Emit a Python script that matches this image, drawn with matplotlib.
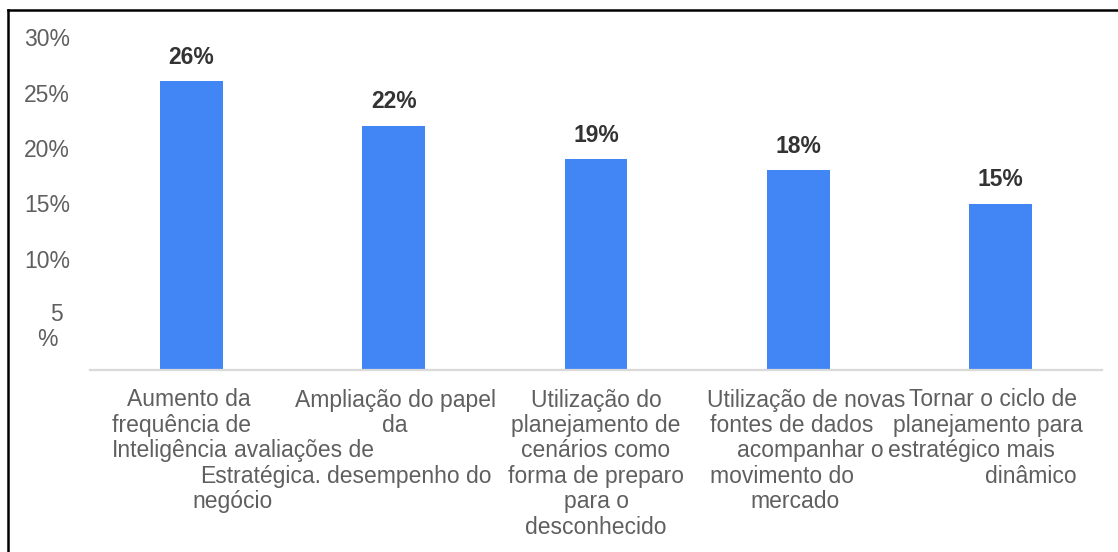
import matplotlib
matplotlib.use("Agg")
import matplotlib.pyplot as plt
from matplotlib.lines import Line2D

# --- data -------------------------------------------------------------
category_lines = [
    ["Aumento da", "frequência de", "Inteligência", "Estratégica."],
    ["Ampliação do papel", "da", "avaliações de", "desempenho do", "negócio"],
    ["Utilização do", "planejamento de", "cenários como", "forma de preparo",
     "para o", "desconhecido"],
    ["Utilização de novas", "fontes de dados", "acompanhar o", "movimento do",
     "mercado"],
    ["Tornar o ciclo de", "planejamento para", "estratégico mais", "dinâmico"],
]
values = [26, 22, 19, 18, 15]
tick_values = [0, 5, 10, 15, 20, 25, 30]
tick_labels = ["", "5\n%", "10%", "15%", "20%", "25%", "30%"]

# --- layout (pixels) --------------------------------------------------
W, H = 1118, 552
DPI = 100
PT = 72 / DPI  # pixels -> points

# left-edge offset of every label line from its category centre
line_offsets = [
    [-64, -79, -79, 9],
    [-99, -12, -160, -67, -201],
    [0, 0, 0, 0, 0, 0],
    [-91, -88, -61, -88, -48],
    [-92, -108, -113, -16],
]
line_align = ["left", "left", "center", "left", "left"]
row_first, row_step = 30, 25.4

BAR_COLOR = "#4285f4"
TEXT_GRAY = "#5f5f5f"
LABEL_DARK = "#333333"

plt.rcParams["font.family"] = ["Liberation Sans", "DejaVu Sans"]
FS = 16.5

fig = plt.figure(figsize=(W / DPI, H / DPI), dpi=DPI)
ax = fig.add_axes([90 / W, (H - 370) / H, (1102 - 90) / W, (370 - 37) / H])

x = list(range(len(values)))
ax.bar(x, values, width=0.31, color=BAR_COLOR, zorder=2)
ax.set_xlim(-0.5, len(values) - 0.5)
ax.set_ylim(0, 30)

for s in ("top", "right", "left"):
    ax.spines[s].set_visible(False)
ax.spines["bottom"].set_color("#d9d9d9")
ax.spines["bottom"].set_linewidth(1.6)

ax.set_xticks([])
ax.set_yticks(tick_values)
ax.set_yticklabels([t if "\n" not in t else "" for t in tick_labels])
ax.tick_params(axis="y", length=0, pad=20 * PT, labelsize=FS,
               labelcolor=TEXT_GRAY)

# the narrow "5 %" label wraps onto two lines
for v, t in zip(tick_values, tick_labels):
    if "\n" in t:
        top, bottom = t.split("\n")
        ax.annotate(top, (0, v), xycoords=("axes fraction", "data"),
                    xytext=(-27 * PT, 0), textcoords="offset points",
                    ha="right", va="center", fontsize=FS, color=TEXT_GRAY)
        ax.annotate(bottom, (0, v), xycoords=("axes fraction", "data"),
                    xytext=(-43 * PT, -25 * PT), textcoords="offset points",
                    ha="center", va="center", fontsize=FS, color=TEXT_GRAY)

# value labels above the bars
for xi, v in zip(x, values):
    ax.annotate(f"{v}%", (xi, v), xytext=(0, 24 * PT),
                textcoords="offset points", ha="center", va="center",
                fontsize=FS, fontweight="bold", color=LABEL_DARK)

# category labels, one line at a time below the baseline
for xi, lines, offs, ha in zip(x, category_lines, line_offsets, line_align):
    for r, (txt, dx) in enumerate(zip(lines, offs)):
        ax.annotate(txt, (xi, 0), xytext=(dx * PT, -(row_first + r * row_step) * PT),
                    textcoords="offset points", ha=ha, va="center",
                    fontsize=FS, color=TEXT_GRAY, annotation_clip=False)

# page frame (left and top edges)
fig.add_artist(Line2D([8 / W, 8 / W], [0, 1 - 10 / H], color="black", lw=1.8))
fig.add_artist(Line2D([8 / W, 1], [1 - 10 / H, 1 - 10 / H], color="black", lw=1.8))

fig.savefig("out.png", dpi=DPI)
